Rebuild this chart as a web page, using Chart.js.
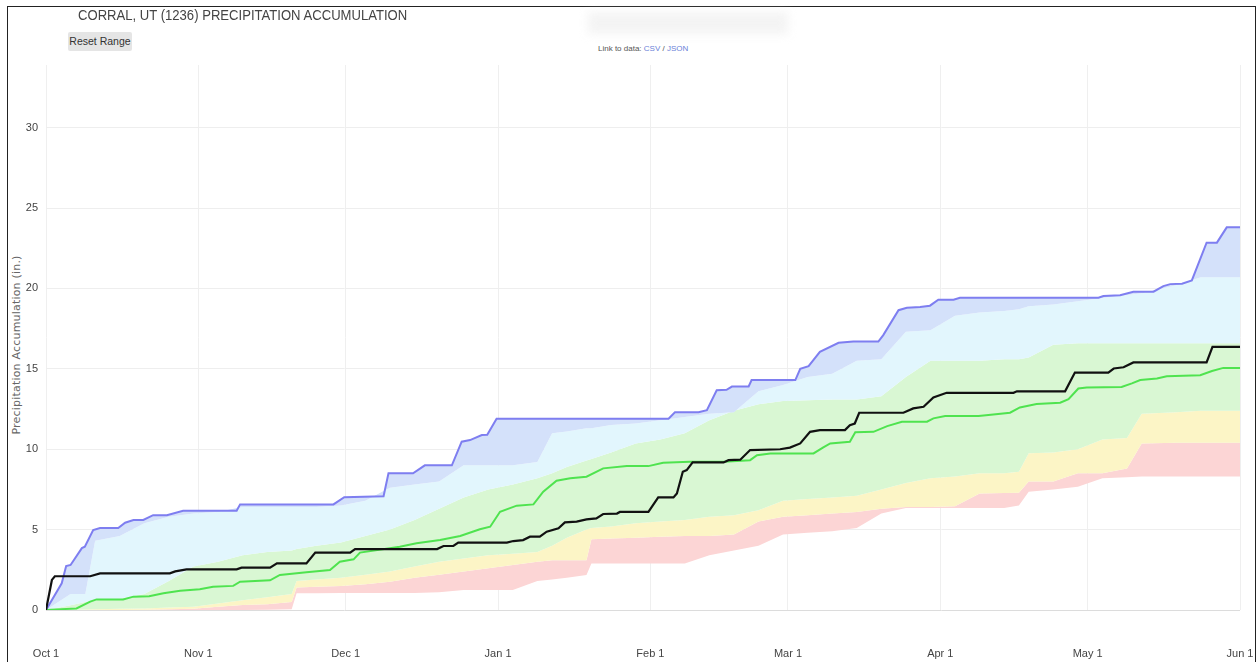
<!DOCTYPE html>
<html>
<head>
<meta charset="utf-8">
<script src="https://cdn.jsdelivr.net/npm/chart.js@4.4.1/dist/chart.umd.min.js"></script>
<style>
  html, body { margin: 0; padding: 0; background: #fff; }
  body { width: 1257px; height: 662px; position: relative; overflow: hidden; font-family: "Liberation Sans", Arial, sans-serif; }
  #frame { position: absolute; left: 7px; top: 6px; width: 1249px; height: 700px; border: 1.5px solid #222; box-sizing: border-box; }
  #title { position: absolute; left: 78px; top: 7px; font-size: 14px; color: #444; white-space: nowrap; transform-origin: left top; transform: scaleX(0.935); }
  #reset { position: absolute; left: 68px; top: 32px; width: 64px; height: 19px; background: #e5e5e5; border-radius: 2px; font-size: 10.5px; color: #333; line-height: 19px; text-align: center; }
  #link { position: absolute; left: 598px; top: 44px; font-size: 8px; color: #555; white-space: nowrap; }
  #link span { color: #6a7fd8; }
  #blur { position: absolute; left: 588px; top: 12px; width: 200px; height: 22px; background: #ececec; filter: blur(5px); opacity: 0.6; }
  #ylabel { position: absolute; left: 16px; top: 345px; font-family: "DejaVu Sans", sans-serif; font-size: 11px; color: #666; white-space: nowrap; transform: translate(-50%, -50%) rotate(-90deg); letter-spacing: 0.2px; }
  canvas { position: absolute; left: 0; top: 0; }
</style>
</head>
<body>
<div id="frame"></div>
<div id="blur"></div>
<div id="title">CORRAL, UT (1236) PRECIPITATION ACCUMULATION</div>
<div id="reset">Reset Range</div>
<div id="link">Link to data: <span>CSV</span> / <span>JSON</span></div>
<div id="ylabel">Precipitation Accumulation (in.)</div>
<canvas id="chart" width="1257" height="662"></canvas>
<script>
// x axis = days since Oct 1
const monthDays = [0, 31, 61, 92, 123, 151, 182, 212, 243];
const monthLabels = ["Oct 1", "Nov 1", "Dec 1", "Jan 1", "Feb 1", "Mar 1", "Apr 1", "May 1", "Jun 1"];
const yTicks = [0, 5, 10, 15, 20, 25, 30];

// percentile bands (days + values)
const bandDays = [0, 5, 8, 10, 15, 20, 25, 30, 35, 40, 45, 50, 51, 55, 60, 65, 70, 75, 80, 85, 90, 95, 100, 103, 106, 110, 111, 115, 120, 125, 130, 135, 140, 145, 150, 155, 160, 165, 170, 175, 180, 185, 190, 195, 198, 200, 205, 210, 215, 220, 223, 230, 235, 240, 243];
const minVals = [0, 0, 0, 0, 0, 0, 0, 0, 0, 0, 0.02, 0.05, 1.04, 1.04, 1.05, 1.05, 1.05, 1.05, 1.1, 1.24, 1.24, 1.24, 1.8, 1.9, 2.0, 2.18, 2.9, 2.9, 2.9, 2.9, 2.9, 3.4, 3.7, 4.0, 4.7, 4.8, 4.9, 5.1, 6.0, 6.34, 6.34, 6.34, 6.34, 6.34, 6.5, 7.36, 7.5, 7.66, 8.2, 8.25, 8.3, 8.3, 8.3, 8.3, 8.3];
const p10Vals = [0, 0, 0, 0, 0, 0.02, 0.05, 0.08, 0.2, 0.31, 0.35, 0.5, 1.4, 1.45, 1.5, 1.6, 1.75, 2.0, 2.2, 2.4, 2.6, 2.8, 3.0, 3.1, 3.1, 3.1, 4.4, 4.45, 4.5, 4.55, 4.6, 4.6, 4.7, 5.5, 5.8, 5.9, 6.0, 6.1, 6.3, 6.4, 6.4, 6.45, 7.25, 7.27, 7.3, 8.0, 8.0, 8.5, 8.5, 8.8, 10.36, 10.4, 10.4, 10.4, 10.4];
const p30Vals = [0, 0.02, 0.03, 0.05, 0.08, 0.1, 0.15, 0.2, 0.4, 0.6, 0.8, 1.0, 1.8, 1.9, 2.0, 2.2, 2.4, 2.7, 3.0, 3.2, 3.4, 3.5, 3.6, 4.0, 4.5, 5.0, 5.1, 5.2, 5.4, 5.5, 5.6, 5.8, 5.9, 6.2, 6.8, 6.9, 7.0, 7.1, 7.5, 7.9, 8.2, 8.3, 8.5, 8.5, 8.6, 9.75, 9.8, 10.0, 10.6, 10.7, 12.2, 12.3, 12.4, 12.4, 12.4];
const p70Vals = [0, 0.3, 0.5, 0.6, 0.7, 1.0, 1.8, 2.7, 3.0, 3.4, 3.6, 3.7, 3.8, 4.0, 4.2, 4.6, 5.0, 5.6, 6.3, 7.0, 7.5, 7.8, 8.2, 8.5, 8.9, 9.3, 9.4, 9.8, 10.36, 10.6, 11.0, 11.8, 12.4, 12.8, 13.0, 13.05, 13.1, 13.1, 13.3, 14.5, 15.5, 15.5, 15.5, 15.6, 15.6, 15.7, 16.5, 16.6, 16.6, 16.6, 16.6, 16.6, 16.6, 16.6, 16.6];
const p90Vals = [0, 1.0, 1.0, 4.3, 4.6, 5.4, 5.8, 6.0, 6.1, 6.4, 6.4, 6.4, 6.4, 6.4, 6.5, 6.8, 7.6, 7.8, 8.0, 9.0, 9.0, 9.0, 9.2, 11.0, 11.1, 11.3, 11.3, 11.5, 11.6, 11.8, 12.0, 12.2, 12.3, 13.6, 14.0, 14.5, 14.7, 15.5, 15.6, 17.3, 17.4, 18.3, 18.5, 18.6, 18.7, 18.9, 19.0, 19.2, 19.4, 19.6, 19.7, 20.2, 20.7, 20.7, 20.7];

// max of record (blue line)
const maxDays = [0, 3.2, 4.1, 5, 7.3, 7.9, 9.6, 11, 14.7, 16.1, 17.8, 19.8, 21.8, 24.6, 27.9, 38.8, 39.5, 58.5, 60.7, 68.7, 69.7, 74.7, 77.1, 82.6, 84.6, 86.3, 88.7, 89.8, 91.7, 126.7, 128, 132.8, 134.5, 136.5, 138.5, 139.6, 143, 143.6, 152.5, 153.5, 155.2, 157.5, 161.3, 164.3, 169.4, 170.4, 173.5, 175.2, 177.9, 179.9, 181.6, 184.7, 186, 214.2, 215.2, 218.6, 221.3, 225.4, 227.4, 228.8, 231.2, 233.2, 236.2, 238.3, 240.3, 243];
const maxVals = [0, 1.66, 2.73, 2.8, 3.85, 3.94, 4.97, 5.1, 5.1, 5.43, 5.6, 5.6, 5.9, 5.9, 6.17, 6.17, 6.57, 6.57, 7.02, 7.08, 8.5, 8.5, 9.0, 9.0, 10.47, 10.57, 10.88, 10.9, 11.9, 11.9, 12.3, 12.3, 12.43, 13.67, 13.7, 13.9, 13.9, 14.3, 14.3, 15.0, 15.17, 16.06, 16.62, 16.7, 16.7, 17.1, 18.65, 18.8, 18.85, 18.93, 19.3, 19.3, 19.42, 19.42, 19.53, 19.58, 19.8, 19.8, 20.15, 20.27, 20.3, 20.5, 22.85, 22.85, 23.8, 23.8];

// median (green line)
const medDays = [0, 6.2, 9, 10.3, 15.7, 17.8, 21, 23.9, 27.3, 31.3, 34, 38.1, 39.5, 45.6, 47.6, 53, 57.8, 59.8, 62.6, 63.9, 72, 75.4, 80.2, 84.3, 88.3, 90.4, 92.4, 95.8, 99.2, 101.2, 103.9, 106.7, 110, 113.4, 118.2, 122.6, 125.6, 131, 137.9, 143.3, 144.7, 147.4, 156.2, 158.2, 159.6, 163.6, 164.7, 168.4, 171.2, 174.2, 179.3, 180.6, 183, 189.8, 192.8, 196.2, 198.2, 201.6, 206.4, 208.1, 210.1, 211.8, 218.9, 221, 222.7, 226.1, 228.1, 234.9, 237.3, 239.6, 243];
const medVals = [0, 0.1, 0.52, 0.66, 0.66, 0.83, 0.85, 1.04, 1.2, 1.29, 1.45, 1.5, 1.76, 1.85, 2.18, 2.35, 2.49, 3.0, 3.15, 3.57, 3.94, 4.15, 4.35, 4.6, 5.02, 5.18, 6.11, 6.49, 6.57, 7.36, 8.04, 8.19, 8.29, 8.81, 8.95, 8.95, 9.16, 9.22, 9.22, 9.32, 9.63, 9.74, 9.74, 10.11, 10.36, 10.47, 11.05, 11.08, 11.44, 11.71, 11.71, 11.92, 12.06, 12.06, 12.16, 12.27, 12.6, 12.81, 12.89, 13.11, 13.78, 13.84, 13.87, 14.1, 14.3, 14.4, 14.54, 14.6, 14.87, 15.06, 15.06];

// current water year (black line)
const curDays = [0, 1.2, 1.8, 9, 11, 25.2, 26.3, 28.6, 38.8, 39.8, 45.6, 47, 53, 54.8, 61.9, 62.9, 79.6, 80.9, 82.9, 83.9, 93.8, 95.1, 97.1, 98.5, 100.5, 101.9, 104.3, 105.6, 108, 110, 112, 113.4, 116.2, 116.8, 122.6, 124.6, 127.7, 128.4, 129.6, 130.4, 131.6, 137.9, 138.9, 141.3, 143.3, 149.4, 151.4, 153.5, 155.5, 157.5, 162.6, 163.6, 164.6, 165.5, 174.5, 176.5, 178.6, 180.6, 183.3, 196.9, 197.6, 207.4, 209.4, 216.2, 217.3, 219.3, 221.3, 236.2, 237.4, 243];
const curVals = [0, 1.87, 2.1, 2.1, 2.28, 2.28, 2.4, 2.53, 2.53, 2.63, 2.63, 2.9, 2.9, 3.57, 3.57, 3.79, 3.79, 3.98, 3.98, 4.19, 4.19, 4.29, 4.35, 4.56, 4.56, 4.87, 5.08, 5.45, 5.5, 5.64, 5.7, 5.97, 6.0, 6.1, 6.1, 7.0, 7.0, 7.25, 8.6, 8.7, 9.18, 9.18, 9.32, 9.35, 9.95, 10.0, 10.1, 10.36, 11.08, 11.19, 11.19, 11.5, 11.6, 12.27, 12.27, 12.54, 12.64, 13.22, 13.51, 13.51, 13.6, 13.6, 14.77, 14.77, 15.02, 15.1, 15.4, 15.4, 16.37, 16.37];

const pts = (xs, ys) => xs.map((x, i) => ({ x: x, y: ys[i] }));

function band(label, xs, ys, color, order) {
  return {
    label: label,
    data: pts(xs, ys),
    borderWidth: 0,
    pointRadius: 0,
    backgroundColor: color,
    fill: "-1",
    order: order,
  };
}

new Chart(document.getElementById("chart").getContext("2d"), {
  type: "line",
  data: {
    datasets: [
      { label: "Min", data: pts(bandDays, minVals), borderWidth: 0, pointRadius: 0, fill: false, order: 10 },
      band("10%", bandDays, p10Vals, "#fcd5d5", 9),
      band("30%", bandDays, p30Vals, "#fcf5c6", 8),
      band("70%", bandDays, p70Vals, "#d9f7d3", 7),
      band("90%", bandDays, p90Vals, "#e2f6fd", 6),
      {
        label: "Max",
        data: pts(maxDays, maxVals),
        borderColor: "#7e7ef0",
        borderWidth: 2,
        pointRadius: 0,
        backgroundColor: "#d4e1fa",
        fill: "-1",
        order: 3,
      },
      { label: "Median", data: pts(medDays, medVals), borderColor: "#4fe34f", borderWidth: 2, pointRadius: 0, fill: false, order: 2 },
      { label: "Current", data: pts(curDays, curVals), borderColor: "#111", borderWidth: 2.2, pointRadius: 0, fill: false, order: 1 },
    ],
  },
  options: {
    responsive: false,
    animation: false,
    events: [],
    layout: { padding: { top: 65, right: 17, left: 0, bottom: 0 } },
    plugins: { legend: { display: false }, tooltip: { enabled: false } },
    elements: { line: { tension: 0 } },
    scales: {
      x: {
        type: "linear",
        min: 0,
        max: 243,
        afterFit: (s) => { s.height = 52; s.paddingLeft = 0; s.paddingRight = 0; },
        afterBuildTicks: (s) => { s.ticks = monthDays.map((v) => ({ value: v })); },
        ticks: {
          padding: 37,
          maxRotation: 0,
          color: "#444",
          font: { family: "Liberation Sans", size: 11 },
          callback: (v) => monthLabels[monthDays.indexOf(v)],
        },
        grid: { color: "#efefef", drawTicks: false },
        border: { display: false },
      },
      y: {
        min: 0,
        max: 33.9,
        afterFit: (s) => { s.width = 46; s.paddingTop = 0; s.paddingBottom = 0; },
        afterBuildTicks: (s) => { s.ticks = yTicks.map((v) => ({ value: v })); },
        ticks: {
          padding: 8,
          color: "#444",
          font: { family: "Liberation Sans", size: 11 },
        },
        grid: {
          color: (c) => (c.tick && c.tick.value === 0 ? "#dcdcdc" : "#eeeeee"),
          drawTicks: false,
        },
        border: { display: false },
      },
    },
  },
});
</script>
</body>
</html>
